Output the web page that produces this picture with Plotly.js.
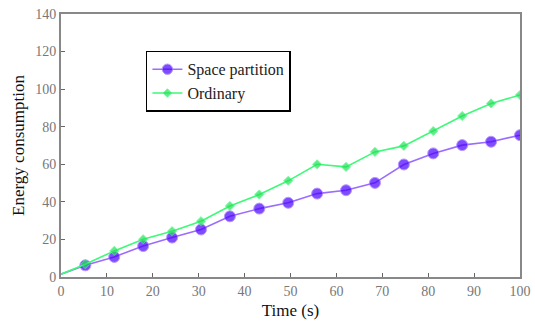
<!DOCTYPE html>
<html><head><meta charset="utf-8">
<script src="https://cdn.plot.ly/plotly-3.0.1.min.js"></script>
<style>html,body{margin:0;padding:0;background:#fff}#c{width:535px;height:325px}</style>
</head><body><div id="c"></div>
<script>
var timeX = [0, 5.3, 11.6, 17.9, 24.2, 30.5, 36.8, 43.2, 49.5, 55.8, 62.1, 68.4, 74.7, 81.1, 87.4, 93.7, 100];
var spacePartition = [1.5, 6.2, 10.7, 16.5, 21.0, 25.3, 32.3, 36.4, 39.5, 44.4, 46.2, 50.1, 59.9, 65.8, 70.2, 72.0, 75.5];
var ordinary = [1.5, 6.8, 13.9, 20.1, 24.4, 29.7, 37.8, 43.9, 51.2, 60.0, 58.6, 66.6, 69.8, 77.7, 85.7, 92.4, 96.9];
var xTicks = [0, 10, 20, 30, 40, 50, 60, 70, 80, 90, 100];
var yTicks = [0, 20, 40, 60, 80, 100, 120, 140];

var spSizes = timeX.map(function(v, i){ return i === 0 ? 0 : 11; });
var ordSizes = timeX.map(function(v, i){ return i === 0 ? 0 : 7; });

var serif = 'Liberation Serif, Times New Roman, serif';
var data = [
  {x: timeX, y: spacePartition, name: 'Space partition', mode: 'lines+markers',
   line: {color: '#9c6cff', width: 1.6},
   marker: {symbol: 'circle', size: spSizes, color: '#4800ff'}},
  {x: timeX, y: ordinary, name: 'Ordinary', mode: 'lines+markers',
   line: {color: '#3dfa78', width: 1.6},
   marker: {symbol: 'diamond', size: ordSizes, color: '#22e055'}}
];

var tickFont = {family: serif, size: 14, color: '#777'};
var layout = {
  width: 535, height: 325,
  margin: {l: 61, r: 15, t: 14, b: 48},
  paper_bgcolor: '#fff', plot_bgcolor: '#fff',
  showlegend: true,
  legend: {x: 0.185, y: 0.86, xanchor: 'left', yanchor: 'top',
    bgcolor: '#fff', bordercolor: '#000', borderwidth: 1.5,
    font: {family: serif, size: 16, color: '#222'},
    tracegroupgap: 0, itemwidth: 30},
  xaxis: {range: [0, 100], tickvals: xTicks, ticks: 'inside', ticklen: 4, tickcolor: '#666',
    showgrid: false, zeroline: false, showline: true, linecolor: '#888', linewidth: 2, mirror: true,
    tickfont: tickFont,
    title: {text: 'Time (s)', font: {family: serif, size: 17, color: '#111'}, standoff: 6}},
  yaxis: {range: [0, 140], tickvals: yTicks, ticks: 'inside', ticklen: 4, tickcolor: '#666',
    showgrid: false, zeroline: false, showline: true, linecolor: '#888', linewidth: 2, mirror: true,
    tickfont: tickFont,
    title: {text: 'Energy consumption', font: {family: serif, size: 17, color: '#111'}, standoff: 6}}
};
Plotly.newPlot('c', data, layout, {displayModeBar: false, staticPlot: true});
</script></body></html>
